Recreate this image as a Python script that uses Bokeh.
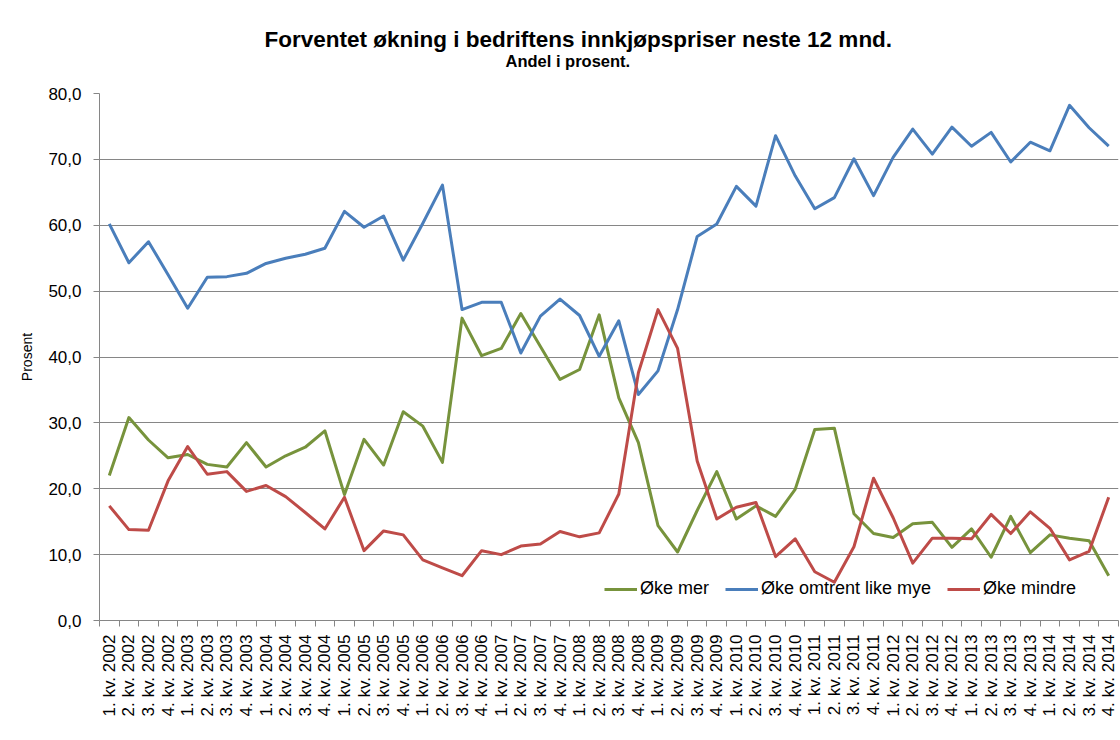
from bokeh.plotting import figure
from bokeh.models import FixedTicker, Title, Legend, LegendItem, ColumnDataSource
from bokeh.embed import file_html
from bokeh.resources import INLINE
import math

years = list(range(2002, 2015))
quarters = [f"{q}. kv. {y}" for y in years for q in range(1, 5)]

oke_mer = [22.0, 30.8, 27.4, 24.7, 25.2, 23.7, 23.3, 27.0, 23.3, 25.0, 26.3, 28.8,
           19.1, 27.5, 23.6, 31.7, 29.5, 24.0, 45.9, 40.2, 41.3, 46.6, 41.6, 36.6,
           38.1, 46.4, 33.8, 27.0, 14.4, 10.4, 16.7, 22.6, 15.4, 17.4, 15.8, 19.9,
           29.0, 29.2, 16.2, 13.2, 12.6, 14.7, 14.9, 11.1, 13.9, 9.6, 15.8, 10.3,
           13.0, 12.5, 12.1, 6.8]
oke_like = [60.2, 54.3, 57.5, 52.5, 47.4, 52.1, 52.2, 52.7, 54.2, 55.0, 55.6, 56.5,
            62.1, 59.7, 61.4, 54.7, 60.3, 66.1, 47.2, 48.3, 48.3, 40.6, 46.2, 48.8,
            46.3, 40.1, 45.5, 34.3, 37.9, 47.2, 58.3, 60.2, 65.9, 62.9, 73.6, 67.5,
            62.5, 64.2, 70.1, 64.5, 70.3, 74.6, 70.8, 74.9, 72.0, 74.1, 69.6, 72.6,
            71.3, 78.2, 74.8, 72.0]
oke_mindre = [17.4, 13.8, 13.7, 21.2, 26.4, 22.2, 22.6, 19.6, 20.5, 18.8, 16.4, 13.9,
              18.7, 10.6, 13.6, 13.0, 9.2, 8.0, 6.8, 10.6, 10.0, 11.3, 11.6, 13.5,
              12.7, 13.3, 19.2, 37.6, 47.2, 41.3, 24.2, 15.4, 17.2, 17.9, 9.7, 12.4,
              7.4, 5.8, 11.2, 21.6, 15.6, 8.7, 12.5, 12.5, 12.4, 16.1, 13.2, 16.5,
              14.0, 9.2, 10.5, 18.7]
y_ticks = [0, 10, 20, 30, 40, 50, 60, 70, 80]
y_tick_labels = ["0,0", "10,0", "20,0", "30,0", "40,0", "50,0", "60,0", "70,0", "80,0"]

series_names = ["Øke mer", "Øke omtrent like mye", "Øke mindre"]
series_colors = ["#77933C", "#4A7EBB", "#BE4B48"]

x = list(range(len(quarters)))
src = ColumnDataSource(dict(x=x, mer=oke_mer, like=oke_like, mindre=oke_mindre))

FONT = "Liberation Sans"
GRID = "#868686"

p = figure(width=1120, height=740, output_backend="svg", toolbar_location=None,
           x_range=(-0.5, len(quarters) - 0.5), y_range=(0, 80),
           min_border_left=99, min_border_right=2, min_border_top=93,
           min_border_bottom=120)
p.outline_line_color = None
p.background_fill_color = "white"
p.border_fill_color = "white"

spacer = Title(text=" ", align="left", text_font=FONT, text_font_size="16.5px",
               standoff=5)
sub = Title(text="Andel i prosent.", align="left", offset=406,
            text_font=FONT, text_font_size="16.5px", text_font_style="bold",
            text_color="black", standoff=-2)
main = Title(text="Forventet økning i bedriftens innkjøpspriser neste 12 mnd.",
             align="left", offset=165, text_font=FONT, text_font_size="22.5px",
             text_font_style="bold", text_color="black", standoff=-2)
p.add_layout(spacer, "above")
p.add_layout(sub, "above")
p.add_layout(main, "above")

renderers = []
for col, color in zip(["mer", "like", "mindre"], series_colors):
    r = p.line("x", col, source=src, line_color=color, line_width=3,
               line_join="round")
    renderers.append(r)

legend = Legend(items=[LegendItem(label=n, renderers=[r])
                       for n, r in zip(series_names, renderers)],
                orientation="horizontal", location=(505, 21),
                background_fill_alpha=0, border_line_color=None,
                label_text_font=FONT, label_text_font_size="18px",
                label_text_color="black", glyph_width=33, label_standoff=3,
                spacing=16, padding=4, margin=0)
p.add_layout(legend)

# x axis
xa = p.xaxis[0]
xa.ticker = FixedTicker(ticks=x, minor_ticks=[i - 0.5 for i in range(len(quarters) + 1)])
xa.major_label_overrides = {i: q for i, q in zip(x, quarters)}
xa.major_label_orientation = math.pi / 2
xa.major_tick_line_color = None
xa.minor_tick_line_color = GRID
xa.minor_tick_in = 0
xa.minor_tick_out = 6
xa.axis_line_color = GRID
xa.major_label_text_font = FONT
xa.major_label_text_font_size = "17px"
xa.major_label_text_color = "black"
xa.major_label_standoff = 8

# y axis
ya = p.yaxis[0]
ya.ticker = FixedTicker(ticks=y_ticks)
ya.major_label_overrides = {t: l for t, l in zip(y_ticks, y_tick_labels)}
ya.axis_line_color = GRID
ya.major_tick_line_color = GRID
ya.major_tick_in = 0
ya.major_tick_out = 6
ya.minor_tick_line_color = None
ya.major_label_text_font = FONT
ya.major_label_text_font_size = "17px"
ya.major_label_text_color = "black"
ya.major_label_standoff = 12
ya.axis_label = "Prosent"
ya.axis_label_text_font = FONT
ya.axis_label_text_font_size = "14px"
ya.axis_label_text_font_style = "normal"
ya.axis_label_text_color = "black"
ya.axis_label_standoff = 10

p.xgrid.grid_line_color = None
p.ygrid.ticker = FixedTicker(ticks=y_ticks)
p.ygrid.grid_line_color = GRID
p.ygrid.grid_line_width = 1

open("out.html", "w").write(file_html(p, INLINE))
